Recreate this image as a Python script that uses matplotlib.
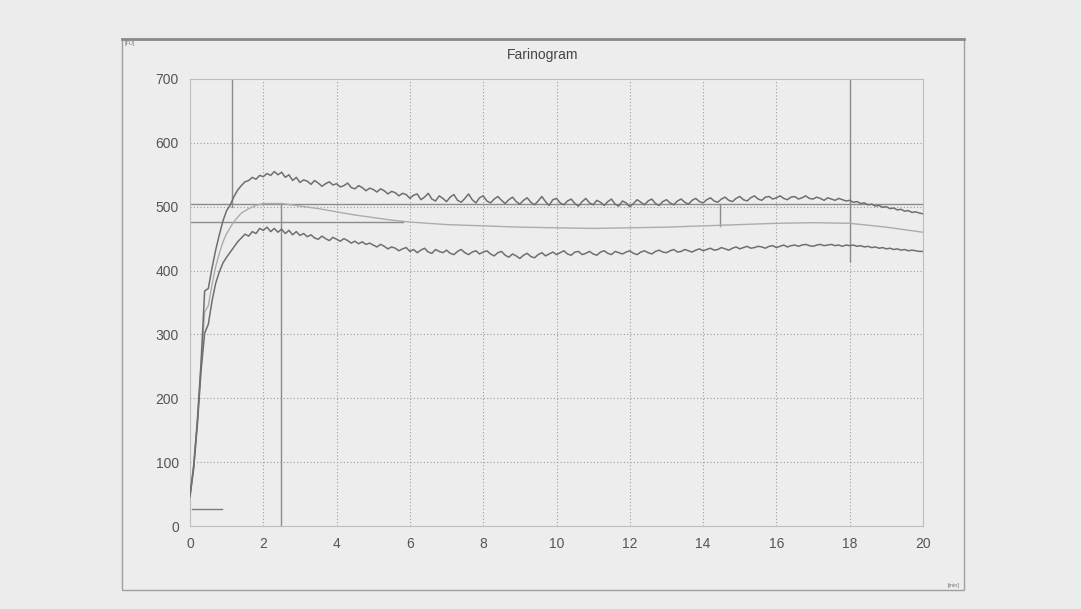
import matplotlib
matplotlib.use('Agg')
import matplotlib.pyplot as plt
import numpy as np

# ── Data ───────────────────────────────────────────────────────────────
# sampling time for the two noisy band edges, 0.1 min steps
time_min = np.round(np.arange(201) * 0.1, 1)

upper_fu = [
    48, 95, 165, 255, 368, 372, 404, 432, 456, 478,
    494, 503, 516, 526, 533, 539, 541, 546, 543, 549,
    547, 552, 549, 555, 550, 554, 546, 550, 541, 546,
    538, 542, 540, 535, 541, 537, 532, 536, 539, 534,
    536, 531, 533, 537, 530, 528, 533, 530, 525, 529,
    527, 523, 528, 525, 520, 524, 522, 517, 521, 519,
    513, 518, 520, 511, 515, 521, 512, 509, 517, 513,
    508, 515, 519, 510, 507, 513, 520, 511, 506, 514,
    517, 509, 506, 512, 516, 510, 505, 511, 515, 508,
    504, 510, 514, 507, 503, 509, 516, 508, 502, 511,
    513, 506, 503, 509, 512, 505, 501, 508, 513, 506,
    503, 510, 507, 502, 508, 512, 504, 501, 509, 506,
    500, 505, 511, 507, 503, 509, 512, 505, 502, 508,
    511, 506, 503, 509, 512, 507, 504, 510, 513, 508,
    506, 511, 514, 509, 507, 512, 515, 510, 508, 513,
    516, 511, 509, 514, 517, 512, 510, 515, 516, 512,
    514, 517, 513, 511, 515, 516, 512, 514, 517, 513,
    512, 515, 513, 510, 514, 512, 510, 513, 511, 509,
    510, 507, 508, 505, 506, 503, 504, 501, 502, 499,
    500, 497, 498, 495, 496, 493, 494, 491, 492, 490,
    489,
]

lower_fu = [
    46, 90, 158, 242, 302, 316, 352, 380, 398, 412,
    421, 429, 437, 445, 451, 457, 454, 461, 458, 466,
    463, 468, 461, 466, 460, 465, 458, 463, 456, 461,
    455, 458, 453, 456, 451, 449, 454, 450, 447, 452,
    449, 446, 450, 447, 443, 446, 442, 445, 441, 443,
    440, 437, 441, 438, 434, 437, 435, 431, 434, 436,
    430, 433, 428, 432, 435, 429, 427, 433, 430, 428,
    432, 427, 425, 430, 433, 428, 425, 429, 431, 426,
    429, 431, 426, 423, 428, 430, 424, 421, 426, 423,
    419, 424, 427, 422, 420, 425, 428, 423, 426, 429,
    425, 428, 431, 426, 424, 429, 430, 425, 427, 430,
    426, 424, 429, 431, 427, 425, 430, 428, 426, 429,
    431, 427, 425, 429, 431, 428, 426, 430, 432, 429,
    428, 431, 433, 429, 430, 433, 431, 429, 432, 434,
    431, 433, 435, 432, 433, 436, 434, 432, 435, 437,
    434, 436, 438, 435, 436, 438, 437, 435, 438, 439,
    436, 438, 440, 437, 439, 440, 438, 440, 441, 439,
    438, 440, 441, 439, 440, 441, 439, 440, 438, 440,
    439, 440, 438, 439, 437, 438, 436, 437, 435, 436,
    434, 435, 433, 434, 432, 433, 431, 432, 431, 430,
    430,
]

# smooth centre curve
mid_time = [0.0, 0.1, 0.2, 0.3, 0.4, 0.5, 0.6, 0.7, 0.8, 0.9, 1.0, 1.2, 1.4,
            1.6, 1.8, 2.0, 2.5, 3.0, 3.5, 4.0, 4.5, 5.0, 5.5, 6.0, 7.0, 8.0,
            9.0, 10.0, 11.0, 12.0, 13.0, 14.0, 15.0, 16.0, 17.0, 18.0, 18.5,
            19.0, 19.5, 20.0]
mid_fu = [47, 92, 160, 248, 335, 345, 378, 406, 427, 445, 458, 477, 490,
          497, 502, 505, 505, 501, 497, 492, 487, 483, 479, 476, 472, 470,
          468, 467, 466, 467, 468, 470, 472, 474, 475, 474, 471, 468, 464,
          460]

# evaluation marker lines
consistency_fu = 504          # full-width reference line
ref_line_fu = 476             # short reference line
ref_line_end = 5.8
arrival_time = 1.15
dev_time = 2.48
stab_mark = 14.46
end_mark = 18.0
base_x = [0.05, 0.87]
base_fu = [27, 27]

x_ticks = list(range(0, 21, 2))
y_ticks = list(range(0, 701, 100))

# ── Figure ────────────────────────────────────────────────────────────
BG = '#ebebeb'
DARK = '#6f6f6f'
LIGHT = '#acacac'
GRID = '#9c9c9c'
TXT = '#555555'
plt.rcParams['font.family'] = ['Liberation Sans', 'DejaVu Sans']

fig = plt.figure(figsize=(10.81, 6.09), dpi=100, facecolor=BG)

# outer frame of the printout (drawn behind the axes)
frame = plt.Rectangle((122 / 1081, 1 - 590 / 609), (964 - 122) / 1081,
                      (590 - 39) / 609, transform=fig.transFigure,
                      facecolor='#ededed', edgecolor='#a0a0a0', lw=1.0,
                      zorder=-10)
fig.add_artist(frame)
fig.add_artist(plt.Line2D([122 / 1081, 964 / 1081], [1 - 39 / 609] * 2,
                          transform=fig.transFigure, color='#8a8a8a', lw=2,
                          zorder=-9))

ax = fig.add_axes([190 / 1081, 1 - 526 / 609, 733 / 1081, 447 / 609])
ax.set_facecolor('none')
ax.set_xlim(0, 20)
ax.set_ylim(0, 700)
ax.set_xticks(x_ticks)
ax.set_yticks(y_ticks)
ax.tick_params(length=0, colors=TXT, labelsize=10, pad=8)
for spine in ax.spines.values():
    spine.set_color('#bdbdbd')
    spine.set_linewidth(0.8)

# dotted grid
for xv in x_ticks[1:-1]:
    ax.axvline(xv, color=GRID, lw=0.8, linestyle=(0, (1, 2)), zorder=1)
for yv in y_ticks[1:-1]:
    ax.axhline(yv, color=GRID, lw=0.8, linestyle=(0, (1, 2)), zorder=1)

# solid marker lines
ax.axhline(consistency_fu, color='#8c8c8c', lw=1.0, zorder=2)
ax.plot([0, ref_line_end], [ref_line_fu, ref_line_fu], color='#8c8c8c', lw=1.0, zorder=2)
ax.plot([arrival_time, arrival_time], [500, 700], color='#8c8c8c', lw=1.0, zorder=2)
ax.plot([dev_time, dev_time], [0, 506], color='#8c8c8c', lw=1.0, zorder=2)
ax.plot([stab_mark, stab_mark], [470, 504], color='#8c8c8c', lw=1.0, zorder=2)
ax.plot([end_mark, end_mark], [415, 700], color='#8c8c8c', lw=1.0, zorder=2)
ax.plot(base_x, base_fu, color='#7a7a7a', lw=1.0, zorder=2)

# curves
ax.plot(mid_time, mid_fu, color=LIGHT, lw=1.0, zorder=3)
ax.plot(time_min, lower_fu, color=DARK, lw=1.1, zorder=4)
ax.plot(time_min, upper_fu, color=DARK, lw=1.1, zorder=4)

fig.text(543 / 1081, 1 - 55 / 609, 'Farinogram', ha='center', va='center',
         color='#444444', fontsize=10)
fig.text(125 / 1081, 1 - 44 / 609, '[FU]', ha='left', va='center',
         color='#777777', fontsize=4)
fig.text(960 / 1081, 1 - 586 / 609, '[min]', ha='right', va='center',
         color='#777777', fontsize=4)

fig.savefig('out.png', dpi=100, facecolor=BG)
